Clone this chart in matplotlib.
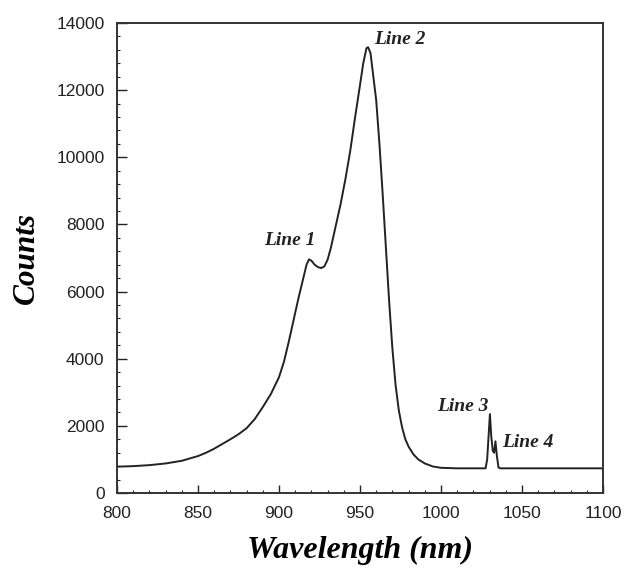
import numpy as np
import matplotlib
matplotlib.use("Agg")
import matplotlib.pyplot as plt
from matplotlib.ticker import MultipleLocator

# Spectrum
wavelength = [800, 810, 820, 830, 840, 850, 855, 860, 865, 870, 875, 880, 885, 890, 895,
              900, 903, 906, 909, 912, 915, 917, 918.5, 920, 922, 924, 926, 928, 930,
              932, 935, 938, 941, 944, 947, 950, 952, 954, 955, 956.5, 958, 960, 962,
              964, 966, 968, 970, 972, 974, 976, 978, 980, 983, 986, 990, 995, 1000,
              1010, 1027.5, 1028.5, 1029.5, 1030.2, 1031, 1032, 1032.8, 1033.6, 1034.5,
              1035.5, 1036.5, 1100]
counts = [785, 800, 830, 880, 960, 1100, 1200, 1320, 1460, 1600, 1750, 1930, 2200, 2560, 2950,
          3450, 3900, 4500, 5150, 5800, 6400, 6800, 6960, 6920, 6800, 6730, 6700, 6750, 6950,
          7300, 7950, 8600, 9350, 10200, 11200, 12150, 12800, 13250, 13280, 13100, 12500, 11700, 10400,
          8900, 7300, 5700, 4300, 3200, 2450, 1950, 1600, 1380, 1150, 1000, 880, 790, 750,
          735, 735, 1000, 1800, 2350, 1700, 1250, 1200, 1540, 1100,
          760, 735, 735]

x_ticks = [800, 850, 900, 950, 1000, 1050, 1100]
y_ticks = [0, 2000, 4000, 6000, 8000, 10000, 12000, 14000]

annotations = [("Line 1", 906.8, 7530, "center"),
               ("Line 2", 958.5, 13500, "left"),
               ("Line 3", 1013.6, 2590, "center"),
               ("Line 4", 1038.0, 1490, "left")]

fig = plt.figure(figsize=(6.25, 5.69), dpi=100)
ax = fig.add_axes([117/625, 1-493/569, 486/625, 470/569])

ax.plot(wavelength, counts, color="#222222", lw=1.4)

ax.set_xlim(800, 1100)
ax.set_ylim(0, 14000)
ax.set_xticks(x_ticks)
ax.set_yticks(y_ticks)
ax.xaxis.set_minor_locator(MultipleLocator(10))
ax.yaxis.set_minor_locator(MultipleLocator(400))
ax.tick_params(which="both", direction="in", labelsize=12.5, colors="#222222")
ax.tick_params(axis="y", which="major", length=7, width=1, pad=9)
ax.tick_params(axis="x", which="major", length=6, width=1, pad=9)
ax.tick_params(which="minor", length=2.5, width=0.8)
for lab in ax.get_xticklabels() + ax.get_yticklabels():
    lab.set_fontfamily("Liberation Sans")
for s in ax.spines.values():
    s.set_linewidth(1.4)
    s.set_color("#333333")

serif = "Liberation Serif"
ax.set_xlabel("Wavelength (nm)", fontsize=23, fontfamily=serif,
              fontweight="bold", fontstyle="italic", labelpad=11)
ax.set_ylabel("Counts", fontsize=22.5, fontfamily=serif,
              fontweight="bold", fontstyle="italic", labelpad=11)

for txt, x, y, ha in annotations:
    ax.text(x, y, txt, fontsize=14, fontfamily=serif, fontweight="bold",
            fontstyle="italic", ha=ha, va="center", color="#222222")

fig.savefig("out.png", dpi=100)
